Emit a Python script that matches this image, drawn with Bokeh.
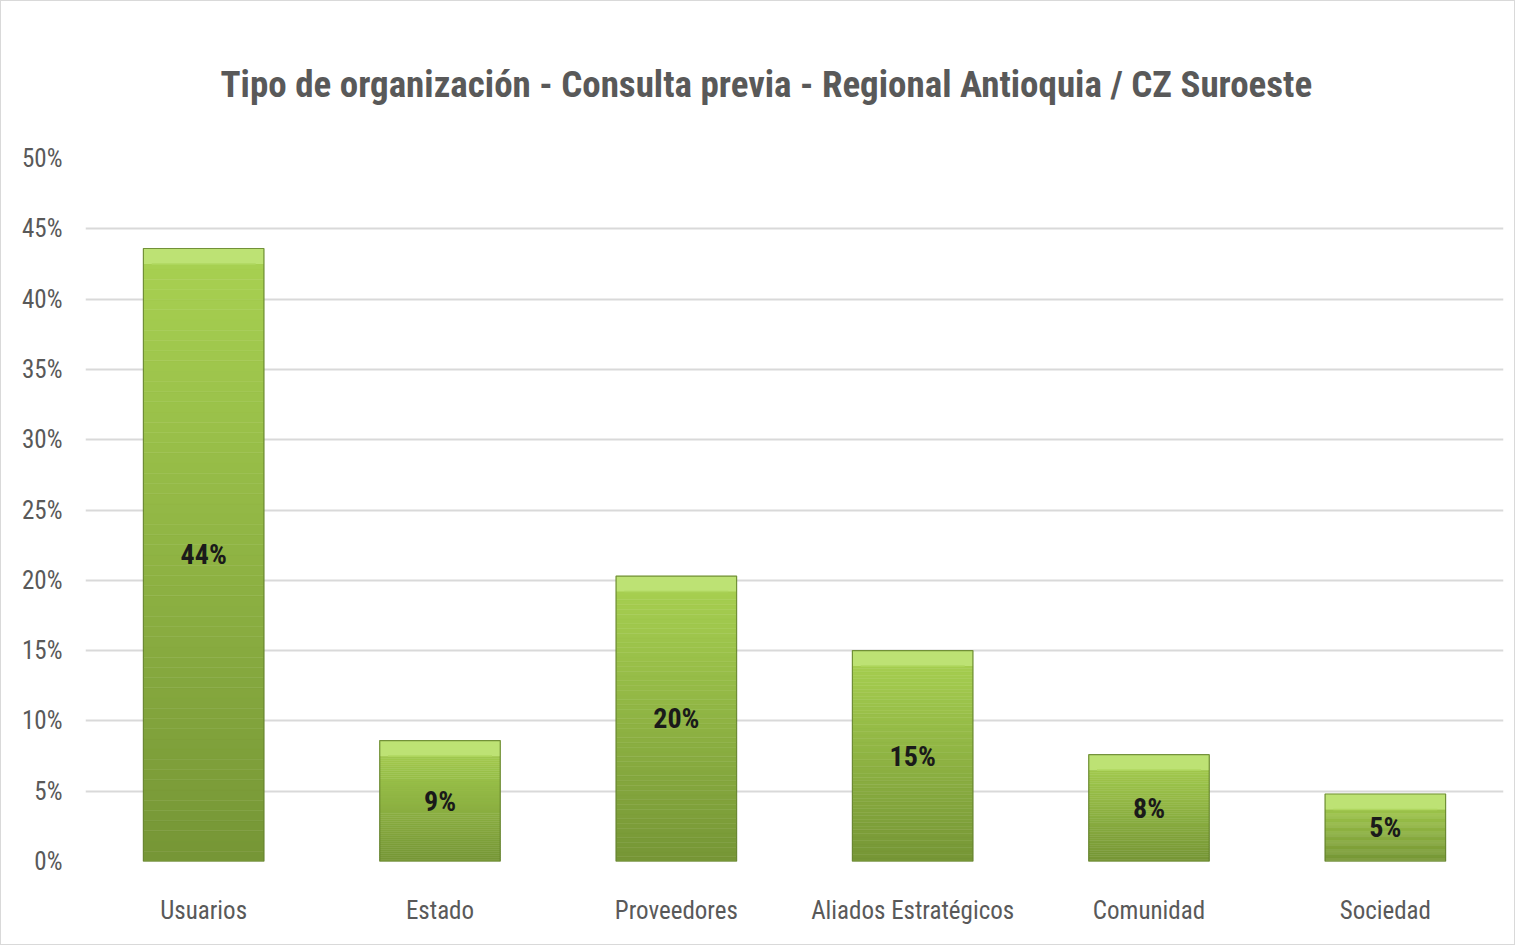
import numpy as np
from bokeh.plotting import figure
from bokeh.models import ColumnDataSource, FixedTicker, NumeralTickFormatter, Range1d, FactorRange
from bokeh.core.properties import value
from bokeh.embed import file_html
from bokeh.resources import INLINE

title = "Tipo de organización - Consulta previa - Regional Antioquia / CZ Suroeste"
categories = ["Usuarios", "Estado", "Proveedores", "Aliados Estratégicos", "Comunidad", "Sociedad"]
values = [0.436, 0.086, 0.203, 0.150, 0.076, 0.048]
tick_values = [0.0, 0.05, 0.10, 0.15, 0.20, 0.25, 0.30, 0.35, 0.40, 0.45, 0.50]

FONT = "'Roboto Condensed', 'DejaVu Sans Condensed', 'Liberation Sans Narrow', sans-serif"
TXT = "#595959"

p = figure(x_range=FactorRange(*categories, range_padding=0), y_range=Range1d(0, 0.5),
           width=1515, height=945, output_backend="svg", toolbar_location=None,
           min_border_left=84, min_border_right=13, min_border_top=157, min_border_bottom=85)
p.styles = {"border": "1px solid #d9d9d9"}
p.outline_line_color = None
p.background_fill_color = "white"
p.border_fill_color = "white"

# gradient bars built from slices of each value
N = 60
dark = np.array([0x76, 0x96, 0x36])
light = np.array([0xa9, 0xd2, 0x52])
xs, bots, tops, cols = [], [], [], []
for c, v in zip(categories, values):
    for i in range(N):
        f = (i + 0.5) / N
        rgb = (dark + (light - dark) * f).astype(int)
        xs.append(c)
        bots.append(v * i / N)
        tops.append(v * (i + 1) / N)
        cols.append("#%02x%02x%02x" % tuple(rgb))
src = ColumnDataSource(dict(x=xs, bottom=bots, top=tops, color=cols))
p.vbar(x="x", bottom="bottom", top="top", width=0.51, source=src,
       fill_color="color", line_color="color", line_width=0.5)

# top bevel band
bevel = 0.011
bsrc = ColumnDataSource(dict(x=categories, top=values, bottom=[v - bevel for v in values]))
p.vbar(x="x", bottom="bottom", top="top", width=0.51, source=bsrc,
       fill_color="#bde274", line_color=None)
p.vbar(x="x", bottom="bottom", top="bottom", width=0.44, source=bsrc,
       line_color="#b0d760", line_width=1.5)

# outline
osrc = ColumnDataSource(dict(x=categories, top=values, lab=[f"{round(v*100)}%" for v in values],
                             mid=[v / 2 for v in values]))
p.vbar(x="x", top="top", bottom=0, width=0.51, source=osrc,
       fill_color=None, line_color="#5f7d28", line_width=1.2, line_alpha=0.8)

p.text(x="x", y="mid", text="lab", source=osrc, text_align="center", text_baseline="middle",
       text_font=value(FONT), text_font_size="28px", text_font_style="bold", text_color="#1a1a1a")

p.title.text = title
p.title.align = "left"
p.title.text_font = FONT
p.title.text_font_size = "37px"
p.title.text_color = TXT
p.title.text_font_style = "bold"
p.title.offset = 135
p.title.standoff = 105

p.yaxis.ticker = FixedTicker(ticks=tick_values)
p.yaxis.formatter = NumeralTickFormatter(format="0%")
p.yaxis.axis_line_color = None
p.yaxis.major_tick_line_color = None
p.yaxis.minor_tick_line_color = None
p.yaxis.major_label_text_font = FONT
p.yaxis.major_label_text_font_size = "25px"
p.yaxis.major_label_text_color = TXT
p.yaxis.major_label_standoff = 17

p.xaxis.axis_line_color = None
p.xaxis.major_tick_line_color = None
p.xaxis.minor_tick_line_color = None
p.xaxis.major_label_text_font = FONT
p.xaxis.major_label_text_font_size = "25px"
p.xaxis.major_label_text_color = TXT
p.xaxis.major_label_standoff = 28

p.xgrid.grid_line_color = None
p.ygrid.grid_line_color = "#d9d9d9"
p.ygrid.grid_line_width = 2

open("out.html", "w").write(file_html(p, INLINE))
